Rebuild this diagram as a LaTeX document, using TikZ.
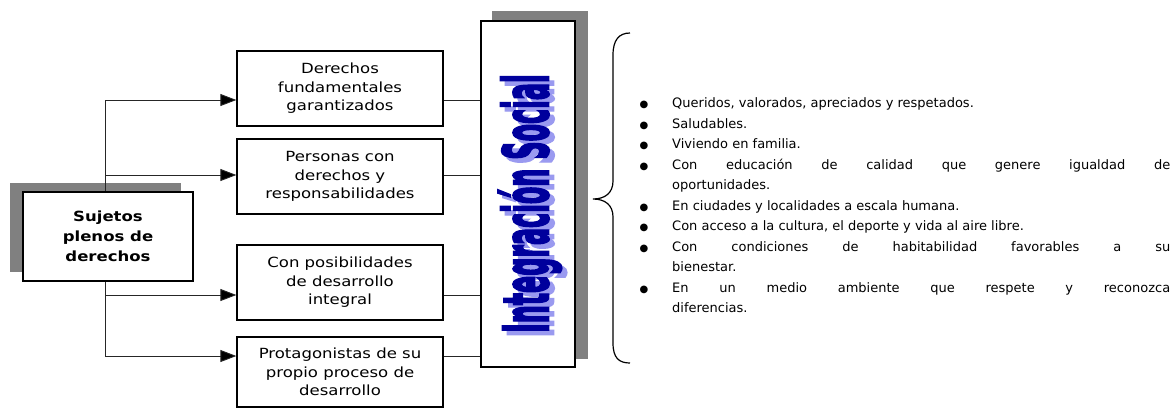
\documentclass[tikz,border=0pt]{standalone}
\usepackage{fontspec}
\usepackage{graphicx}
\setmainfont{DejaVu Sans}
\newfontfamily\boxfont[FakeStretch=1.18]{DejaVu Sans}
\newfontfamily\igfont[FakeBold=4]{DejaVu Sans Bold}
\usetikzlibrary{arrows.meta}
\definecolor{igblue}{HTML}{00009C}
\definecolor{igshadow}{HTML}{9A9AF0}
\definecolor{shadowgray}{HTML}{808080}
\tikzset{
  itembox/.style={draw=black, line width=1.3pt, fill=white, minimum width=206pt, inner sep=0pt, align=center, font=\boxfont\fontsize{14}{18.5}\selectfont},
  shadowrect/.style={fill=shadowgray, draw=none},
  conn/.style={line width=0.9pt, draw=black!85},
  arr/.style={conn, -{Triangle[length=16pt,width=12pt,fill=black]}},
  listline/.style={anchor=base west, inner sep=0pt, font=\fontsize{13}{20}\selectfont},
  bul/.style={anchor=base, inner sep=0pt, font=\fontsize{10}{10}\selectfont},
  igtext/.style={rotate=90, anchor=base, inner sep=0pt, font=\igfont\fontsize{62}{62}\selectfont},
}
\newcommand{\jline}[1]{\makebox[498pt][s]{#1}}
\begin{document}
\begin{tikzpicture}[x=1pt,y=-1pt]
\useasboundingbox (0,0) rectangle (1174,408);
% shadows
\fill[shadowrect] (10,183) rectangle (181,272);
\fill[shadowrect] (492,11) rectangle (588,359);
% integration box
\node[draw=black, line width=1.3pt, fill=white, minimum width=94pt, minimum height=346pt, inner sep=0pt] (ig) at (528,194) {};
\node[igtext, text=igshadow] (igs) at (553,208) {\scalebox{0.41}[1]{Integración Social}};
\node[igtext, text=igblue] (igt) at (548,203.5) {\scalebox{0.41}[1]{Integración Social}};
% boxes
\node[itembox, minimum height=75pt] (b1) at (340,88.5) {Derechos\\fundamentales\\garantizados};
\node[itembox, minimum height=75pt] (b2) at (340,176.5) {Personas con\\derechos y\\responsabilidades};
\node[itembox, minimum height=75pt] (b3) at (340,282.5) {Con posibilidades\\de desarrollo\\integral};
\node[itembox, minimum height=70pt] (b4) at (340,372) {Protagonistas de su\\propio proceso de\\desarrollo};
% junctions
\coordinate (j1) at (105,100);
\coordinate (j2) at (105,175);
\coordinate (j3) at (105,295);
\coordinate (j4) at (105,356);
\draw[conn] (j1) -- (j4);
\node[itembox, minimum width=170pt, minimum height=89pt, font=\boxfont\bfseries\fontsize{14}{20}\selectfont] (suj) at (108,236.5) {Sujetos\\plenos de\\derechos};
\draw[arr] (j1) -- (j1 -| b1.west);
\draw[arr] (j2) -- (j2 -| b2.west);
\draw[arr] (j3) -- (j3 -| b3.west);
\draw[arr] (j4) -- (j4 -| b4.west);
\draw[conn] (j1 -| b1.east) -- (j1 -| ig.west);
\draw[conn] (j2 -| b2.east) -- (j2 -| ig.west);
\draw[conn] (j3 -| b3.east) -- (j3 -| ig.west);
\draw[conn] (j4 -| b4.east) -- (j4 -| ig.west);
% brace
\coordinate (bt) at (630,33);
\coordinate (bm) at (593,199);
\coordinate (bb) at (630,363);
\draw[line width=1.2pt] (bt) .. controls (619,33) and (613,40) .. (613,55) -- (613,181)
  .. controls (613,193) and (605,199) .. (bm)
  .. controls (605,199) and (613,205) .. (613,217) -- (613,343)
  .. controls (613,358) and (619,363) .. (bb);
% list
\node[bul] (u0) at (644,107.5) {●};
\node[listline] (l0) at (672,107.5) {Queridos, valorados, apreciados y respetados.};
\node[bul] (u1) at (644,128) {●};
\node[listline] (l1) at (672,128) {Saludables.};
\node[bul] (u2) at (644,148.5) {●};
\node[listline] (l2) at (672,148.5) {Viviendo en familia.};
\node[bul] (u3) at (644,169) {●};
\node[listline] (l3) at (672,169) {\jline{Con educación de calidad que genere igualdad de}};
\node[listline] (l4) at (672,189.5) {oportunidades.};
\node[bul] (u5) at (644,210) {●};
\node[listline] (l5) at (672,210) {En ciudades y localidades a escala humana.};
\node[bul] (u6) at (644,230.5) {●};
\node[listline] (l6) at (672,230.5) {Con acceso a la cultura, el deporte y vida al aire libre.};
\node[bul] (u7) at (644,251) {●};
\node[listline] (l7) at (672,251) {\jline{Con condiciones de habitabilidad favorables a su}};
\node[listline] (l8) at (672,271.5) {bienestar.};
\node[bul] (u9) at (644,292) {●};
\node[listline] (l9) at (672,292) {\jline{En un medio ambiente que respete y reconozca}};
\node[listline] (l10) at (672,312.5) {diferencias.};
\end{tikzpicture}
\end{document}
